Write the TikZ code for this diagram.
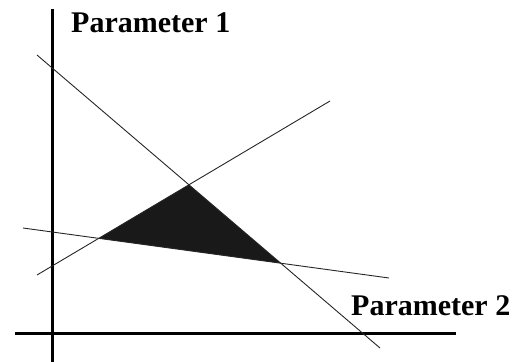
\documentclass[tikz,border=0pt]{standalone}
\usepackage{fontspec}
\setmainfont{Liberation Serif}
\usetikzlibrary{intersections}

\begin{document}
\begin{tikzpicture}[x=1pt, y=-1pt, axis/.style={line width=3pt, black}, bound/.style={line width=0.9pt, black!85}, axislabel/.style={anchor=base west, inner sep=0pt, font=\fontsize{30}{33}\selectfont\bfseries}]
\useasboundingbox (0,0) rectangle (515,362);
% Axes
\coordinate (yTop) at (52, 9);
\coordinate (yBot) at (52, 362);
\coordinate (xLeft) at (15, 333);
\coordinate (xRight) at (456, 333);
\draw[axis] (yBot) -- (yTop);
\draw[axis] (xLeft) -- (xRight);
\node[axislabel] (p1) at (71, 32) {Parameter 1};
\node[axislabel] (p2) at (351, 315) {Parameter 2};

% Constraint lines
\coordinate (a1) at (37, 55);
\coordinate (a2) at (380, 348);
\coordinate (b1) at (37, 275);
\coordinate (b2) at (330, 101);
\coordinate (c1) at (23, 228);
\coordinate (c2) at (389, 278);
\path[name path=la] (a1) -- (a2);
\path[name path=lb] (b1) -- (b2);
\path[name path=lc] (c1) -- (c2);
\path[name intersections={of=la and lb, by=top}];
\path[name intersections={of=lb and lc, by=left}];
\path[name intersections={of=la and lc, by=right}];

% Feasible region
\fill[black!90] (left) -- (top) -- (right) -- cycle;
\draw[bound] (a1) -- (a2);
\draw[bound] (b1) -- (b2);
\draw[bound] (c1) -- (c2);
\end{tikzpicture}
\end{document}
